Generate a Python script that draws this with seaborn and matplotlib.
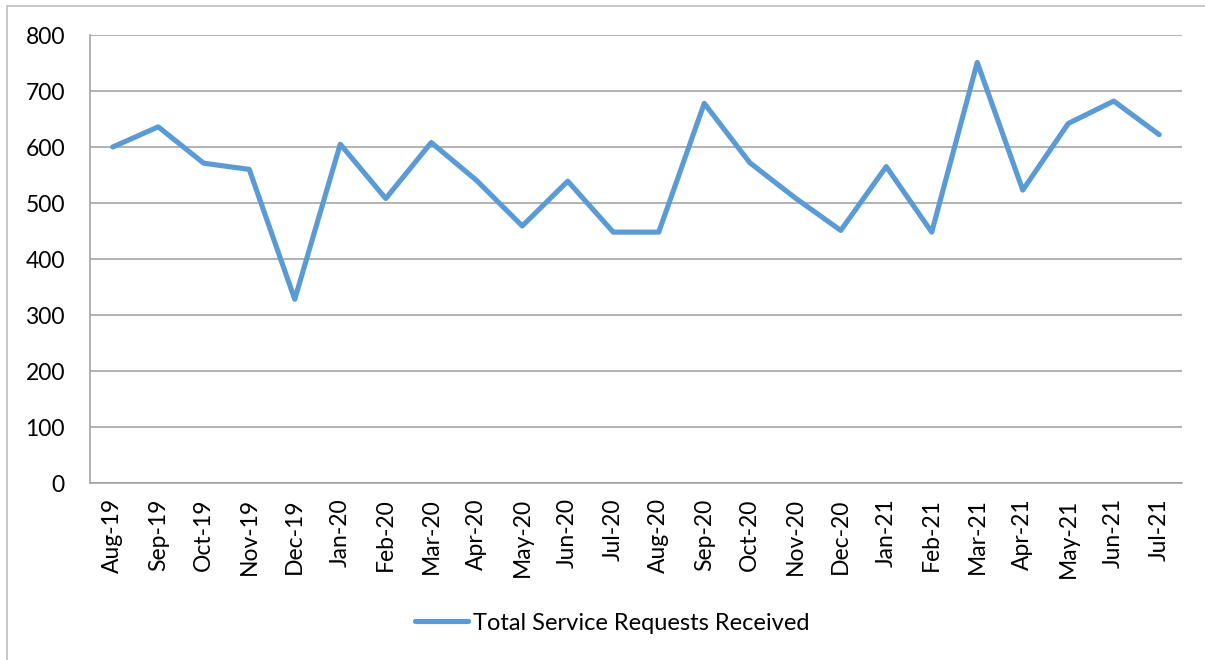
import matplotlib
matplotlib.use('Agg')
import matplotlib.pyplot as plt
import seaborn as sns
import pandas as pd
from matplotlib.patches import Rectangle

# Monthly totals
months = ['Aug-19', 'Sep-19', 'Oct-19', 'Nov-19', 'Dec-19', 'Jan-20', 'Feb-20', 'Mar-20',
          'Apr-20', 'May-20', 'Jun-20', 'Jul-20', 'Aug-20', 'Sep-20', 'Oct-20', 'Nov-20',
          'Dec-20', 'Jan-21', 'Feb-21', 'Mar-21', 'Apr-21', 'May-21', 'Jun-21', 'Jul-21']
requests = [600, 636, 571, 560, 328, 605, 508, 608,
            540, 459, 539, 448, 448, 678, 572, 509,
            451, 565, 448, 751, 523, 642, 682, 622]
y_ticks = [0, 100, 200, 300, 400, 500, 600, 700, 800]

series_name = 'Total Service Requests Received'
line_color = '#5B9BD5'
grid_color = '#9E9E9E'

sns.set_theme(style='white')
plt.rcParams['font.family'] = ['Lato', 'DejaVu Sans']
plt.rcParams['text.color'] = 'black'

df = pd.DataFrame({'pos': range(len(months)), 'month': months, 'value': requests})

fig = plt.figure(figsize=(12.05, 6.6), dpi=100)
ax = fig.add_axes([90 / 1205, 1 - 483 / 660, 1092 / 1205, 448 / 660])

sns.lineplot(data=df, x='pos', y='value', ax=ax, color=line_color, linewidth=3.7,
             label=series_name, sort=False, legend=False)

ax.set_xlim(-0.5, len(months) - 0.5)
ax.set_ylim(0, 800)
ax.set_yticks(y_ticks)
ax.set_yticklabels([str(v) for v in y_ticks], fontsize=16.5, color='black')
ax.set_xticks(range(len(months)))
ax.set_xticklabels(months, rotation=90, fontsize=16.5, color='black')
ax.set_xticks([i - 0.5 for i in range(len(months) + 1)], minor=True)
ax.tick_params(axis='x', which='major', length=0, pad=11)
ax.tick_params(axis='x', which='minor', length=6, width=1, color=grid_color, direction='out')
ax.tick_params(axis='y', length=6, width=1, color=grid_color, direction='out', pad=12)
ax.set_xlabel('')
ax.set_ylabel('')

ax.yaxis.grid(True, color=grid_color, linewidth=1.1)
ax.set_axisbelow(True)
for side in ['top', 'right']:
    ax.spines[side].set_visible(False)
for side in ['left', 'bottom']:
    ax.spines[side].set_color(grid_color)
    ax.spines[side].set_linewidth(1.1)

handles, labels = ax.get_legend_handles_labels()
fig.legend(handles, labels, loc='center', bbox_to_anchor=(612 / 1205, 1 - 623 / 660),
           frameon=False, fontsize=17, handlelength=2.25, handletextpad=0.2)

# outer chart border (only left and top edges visible in the reference)
fig.patches.append(Rectangle((7 / 1205, -0.1), 1.2, 1.1 - 6 / 660, transform=fig.transFigure,
                             fill=False, edgecolor='#BFBFBF', linewidth=1.2))

fig.savefig('out.png', dpi=100)
plt.close(fig)
